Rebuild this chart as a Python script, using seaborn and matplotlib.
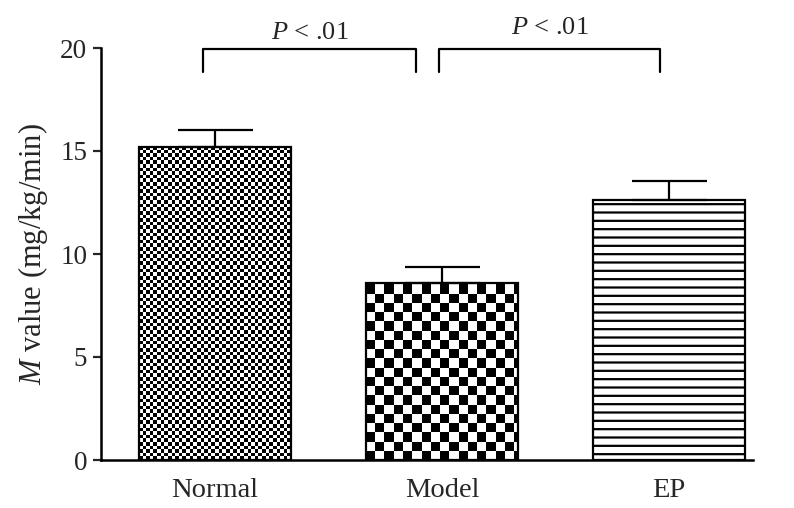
import numpy as np
import matplotlib
matplotlib.use("Agg")
import matplotlib.pyplot as plt
import seaborn as sns
import pandas as pd

categories = ["Normal", "Model", "EP"]
values = [15.2, 8.6, 12.6]
errors = [0.8, 0.75, 0.95]
yticks = [0, 5, 10, 15, 20]
brackets = [(0, 1, "P < .01"), (1, 2, "P < .01")]

sns.set_theme(style="ticks")
plt.rcParams["font.family"] = ["Liberation Serif", "DejaVu Serif"]
plt.rcParams["mathtext.fontset"] = "custom"
plt.rcParams["mathtext.rm"] = "Liberation Serif"
plt.rcParams["mathtext.it"] = "Liberation Serif:italic"
plt.rcParams["hatch.linewidth"] = 1.6

fig = plt.figure(figsize=(7.94, 5.08), dpi=100)
ax = fig.add_axes([101 / 794, 48 / 508, (753 - 101) / 794, (460 - 48) / 508])

df = pd.DataFrame({"group": categories, "value": values})
sns.barplot(data=df, x="group", y="value", color="white", width=0.67,
            edgecolor="black", linewidth=1.6, ax=ax, zorder=2)

ax.set_xlim(-0.502, 2.37)
ax.set_ylim(0, 20)
ax.set_yticks(yticks)

# error bars (upper only)
ax.errorbar(range(len(values)), values, yerr=[[0] * len(values), errors],
            fmt="none", ecolor="black", elinewidth=1.6, capsize=27,
            capthick=1.6, zorder=4)

# fill patterns
cell_sizes = [3.6, 9.2, None]
for patch, cell in zip(ax.patches, cell_sizes):
    x0, y0 = patch.get_x(), patch.get_y()
    w, h = patch.get_width(), patch.get_height()
    if cell is None:
        patch.set_hatch("--")
        continue
    (px0, py0), (px1, py1) = ax.transData.transform([(x0, y0), (x0 + w, y0 + h)])
    nx = int(np.ceil((px1 - px0) / cell))
    ny = int(np.ceil((py1 - py0) / cell))
    img = (np.add.outer(np.arange(ny), np.arange(nx)) % 2).astype(float)
    ex1 = x0 + nx * cell * w / (px1 - px0)
    ey1 = y0 + ny * cell * h / (py1 - py0)
    im = ax.imshow(img, cmap="gray", extent=[x0, ex1, y0, ey1], origin="lower",
                   aspect="auto", interpolation="nearest", zorder=1.5)
    im.set_clip_path(patch)
    patch.set_facecolor("none")
    patch.set_zorder(3)
ax.set_xlim(-0.502, 2.37)
ax.set_ylim(0, 20)

# significance brackets
for a, b, label in brackets:
    xa, xb = a - 0.053, b - 0.115
    if a == 1:
        xa, xb = a - 0.013, b - 0.04
    ax.plot([xa, xa, xb, xb], [18.83, 19.95, 19.95, 18.83], color="black",
            lw=1.6, clip_on=False, zorder=5)
    ax.text((xa + xb) / 2, 20.2 if a == 0 else 20.45, r"$\mathit{P}$ < .01",
            ha="center", va="bottom", fontsize=19, clip_on=False)

ax.set_xlabel("")
ax.set_ylabel(r"$\mathit{M}$ value (mg/kg/min)", fontsize=22, labelpad=7)
ax.tick_params(axis="y", labelsize=19.5, length=6, width=1.6, direction="out", pad=4)
ax.tick_params(axis="x", labelsize=20.5, length=0, pad=13)
for s in ["top", "right"]:
    ax.spines[s].set_visible(False)
for s in ["left", "bottom"]:
    ax.spines[s].set_linewidth(1.8)
    ax.spines[s].set_color("black")

fig.savefig("out.png", dpi=100)
